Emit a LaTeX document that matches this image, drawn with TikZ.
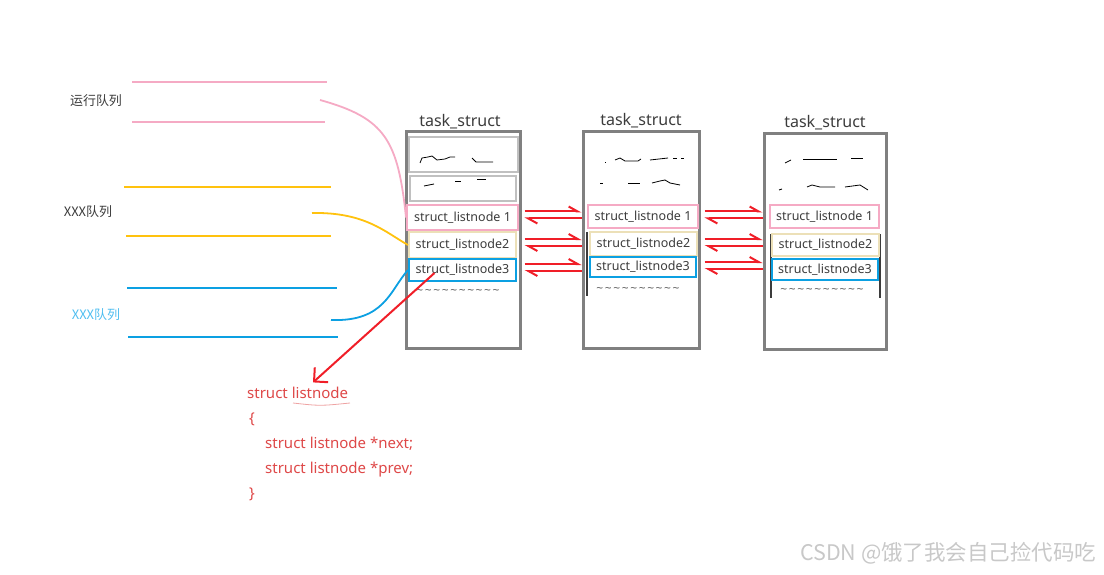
\documentclass[tikz,border=0pt]{standalone}
\usepackage{fontspec}
\setmainfont{Noto Sans}
\newfontfamily\cjk{Noto Sans CJK SC}
\usepackage{xcolor}
\usepackage{tikz}
\usetikzlibrary{arrows.meta,positioning,calc}
\definecolor{queuepink}{RGB}{245,170,196}
\definecolor{queueyellow}{RGB}{255,194,14}
\definecolor{queueblue}{RGB}{12,160,226}
\definecolor{nodetan}{RGB}{236,224,184}
\definecolor{boxgray}{RGB}{128,128,128}
\definecolor{innergray}{RGB}{192,192,192}
\definecolor{linkred}{RGB}{240,30,40}
\definecolor{codered}{RGB}{222,72,72}
\definecolor{textgray}{RGB}{60,60,60}
\definecolor{labelblue}{RGB}{80,190,240}
\definecolor{markgray}{RGB}{200,200,200}
\newcommand{\tilderow}{\foreach \i in {1,...,10}{\textasciitilde\hspace{1.6pt}}}

\begin{document}
\begin{tikzpicture}[x=1pt,y=-1pt,
    taskbox/.style={draw=boxgray, line width=3pt, minimum height=216pt, inner sep=0pt},
    tasktitle/.style={font=\fontsize{16}{18}\selectfont, text=textgray, inner sep=1pt},
    listbox/.style={line width=2pt, fill=white, text=textgray, font=\fontsize{12.5}{14}\selectfont, inner sep=0pt},
    tilde/.style={font=\fontsize{12}{14}\selectfont, text=textgray!80},
    harp/.style={linkred, line width=2pt, -{Straight Barb[harpoon,length=9pt,width=10pt]}},
    redarrow/.style={linkred, line width=2pt, -{Straight Barb[length=10pt,width=20pt]}},
    queue/.style={line width=2pt},
    qlabel/.style={font=\cjk\fontsize{13}{15}\selectfont, text=textgray},
    code/.style={font=\fontsize{15}{17}\selectfont, text=codered, anchor=base west, inner sep=0pt},
    scribble/.style={black, line width=0.8pt}]
    \useasboundingbox (0,0) rectangle (1104,575);
    % Task structs
    \node[taskbox, minimum width=114pt] (task1) at (463,240) {};
    \node[taskbox, minimum width=116pt] (task2) at (641,240) {};
    \node[taskbox, minimum width=122pt, minimum height=215pt] (task3) at (825,241.5) {};
    \node[tasktitle, above=0pt of task1, xshift=-3pt] (title1) {task\_struct};
    \node[tasktitle, above=1pt of task2] (title2) {task\_struct};
    \node[tasktitle, above=1pt of task3] (title3) {task\_struct};
    % Other members (scribbles)
    \draw[innergray, line width=2pt] (409,137) rectangle (518,172);
    \draw[innergray, line width=2pt] (410,176) rectangle (516,201);
    \draw[scribble] (420,163) -- (422,158) -- (428,157) -- (432,156) -- (437,160) -- (445,159) -- (450,157) -- (455,157);
    \draw[scribble] (472,158) -- (476,162) -- (493,162);
    \draw[scribble] (424,186) -- (434,184);
    \draw[scribble] (455,181) -- (461,181);
    \draw[scribble] (477,179) -- (486,179);
    \draw[scribble] (605,162) -- (606,162);
    \draw[scribble] (615,160) -- (620,158) -- (625,161) -- (638,161) -- (641,159);
    \draw[scribble] (650,160) -- (668,158);
    \draw[scribble] (673,158) -- (677,158);
    \draw[scribble] (681,158) -- (684,158);
    \draw[scribble] (600,183) -- (603,183);
    \draw[scribble] (628,183) -- (640,183);
    \draw[scribble] (652,183) -- (660,181) -- (665,180) -- (670,183) -- (680,185);
    \draw[scribble] (785,163) -- (791,160);
    \draw[scribble] (803,159) -- (837,159);
    \draw[scribble] (851,158) -- (863,158);
    \draw[scribble] (779,190) -- (782,189);
    \draw[scribble] (807,187) -- (812,185) -- (820,187) -- (835,187);
    \draw[scribble] (845,187) -- (860,185) -- (868,190);
    \draw[textgray, line width=1.2pt] (587,232) -- (587,296);
    \draw[textgray, line width=1.2pt] (771,234) -- (771,298);
    \draw[textgray, line width=1.2pt] (880,234) -- (880,298);
    % List nodes
    \node[listbox, draw=queuepink, minimum width=111pt, minimum height=25pt] (n11) at (462.5,217.5) {struct\_listnode 1};
    \node[listbox, draw=nodetan, minimum width=107pt, minimum height=26pt] (n12) at (462.5,245) {struct\_listnode2};
    \node[listbox, draw=queueblue, minimum width=107pt, minimum height=22pt] (n13) at (462.5,270) {struct\_listnode3};
    \node[listbox, draw=queuepink, minimum width=110pt, minimum height=23pt] (n21) at (643,216.5) {struct\_listnode 1};
    \node[listbox, draw=nodetan, minimum width=107pt, minimum height=24pt] (n22) at (643.5,244) {struct\_listnode2};
    \node[listbox, draw=queueblue, minimum width=106pt, minimum height=20pt] (n23) at (643,267) {struct\_listnode3};
    \node[listbox, draw=queuepink, minimum width=109pt, minimum height=23pt] (n31) at (824.5,216.5) {struct\_listnode 1};
    \node[listbox, draw=nodetan, minimum width=107pt, minimum height=22pt] (n32) at (825.5,245) {struct\_listnode2};
    \node[listbox, draw=queueblue, minimum width=106pt, minimum height=21pt] (n33) at (825,269.5) {struct\_listnode3};
    \node[tilde] (tl1) at (458,292) {\tilderow};
    \node[tilde] (tl2) at (638,290) {\tilderow};
    \node[tilde] (tl3) at (822,291) {\tilderow};
    % Links between the lists
    \foreach \r in {1,2,3} {
        \draw[harp] ($(task1.east |- n1\r)+(3,-6)$) -- ($(task2.west |- n1\r)+(0,-6)$);
        \draw[harp] ($(task2.west |- n1\r)+(0,1)$) -- ($(task1.east |- n1\r)+(3,1)$);
        \draw[harp] ($(task2.east |- n2\r)+(4,-5)$) -- ($(task3.west |- n2\r)+(0,-5)$);
        \draw[harp] ($(task3.west |- n2\r)+(0,2)$) -- ($(task2.east |- n2\r)+(4,2)$);
    }
    % Queues
    \draw[queue, queuepink] (132,82) -- (327,82);
    \draw[queue, queuepink] (132,122) -- (325,122);
    \node[qlabel] (qrun) at (96,101) {运行队列};
    \draw[queue, queueyellow] (124,187) -- (331,187);
    \draw[queue, queueyellow] (126,236) -- (331,236);
    \node[qlabel] (qxxx) at (88,212) {XXX队列};
    \draw[queue, queueblue] (127,288) -- (337,288);
    \draw[queue, queueblue] (128,337) -- (338,337);
    \node[qlabel, text=labelblue] (qblue) at (96,315) {XXX队列};
    \coordinate (qrunend) at (320,100);
    \coordinate (qxxxend) at (312,213);
    \coordinate (qblueend) at (331,320);
    \draw[queuepink, line width=1.8pt] (qrunend) .. controls (385,118) and (398,140) .. (n11.west);
    \draw[queueyellow, line width=1.8pt] (qxxxend) .. controls (365,212) and (385,232) .. (n12.west);
    \draw[queueblue, line width=1.8pt] (qblueend) .. controls (385,322) and (390,290) .. (n13.west);
    % struct listnode
    \node[code] (codehead) at (247,398) {struct listnode};
    \node[code] (codeopen) at (249,423) {\{};
    \node[code] (codenext) at (265,448) {struct listnode *next;};
    \node[code] (codeprev) at (265,473) {struct listnode *prev;};
    \node[code] (codeclose) at (249,498) {\}};
    \draw[codered!50, line width=0.8pt] (293,403) .. controls (320,406) .. (350,403);
    \coordinate (codetip) at ($(codehead.north west)+(66,-4)$);
    \draw[redarrow] ($(n13.center)+(-28,3)$) -- (codetip);
    % Watermark
    \node[font=\cjk\fontsize{21.5}{24}\selectfont, text=markgray, anchor=east] (mark) at (1100,553) {CSDN @饿了我会自己捡代码吃};
\end{tikzpicture}
\end{document}
